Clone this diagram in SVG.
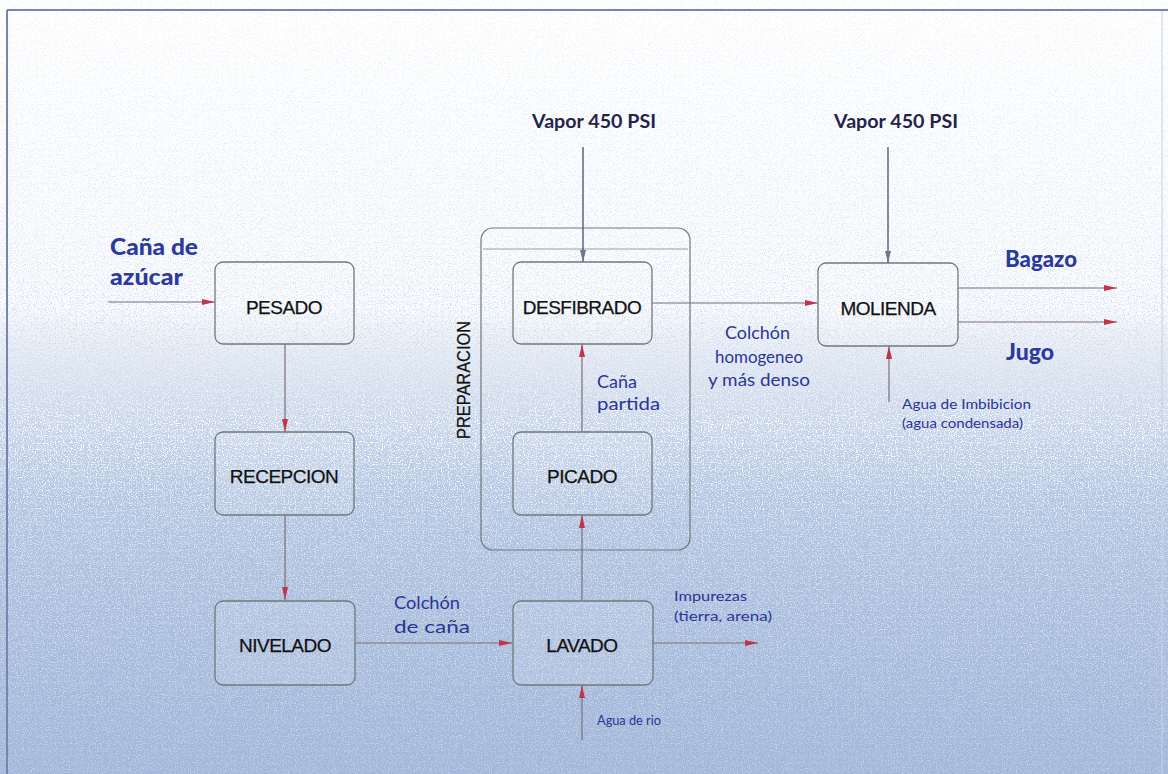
<svg xmlns="http://www.w3.org/2000/svg" width="1168" height="774" viewBox="0 0 1168 774">
  <defs>
    <linearGradient id="bg" x1="0" y1="0" x2="0" y2="1">
      <stop offset="0" stop-color="#ffffff"/>
      <stop offset="0.4" stop-color="#f9fbfd"/>
      <stop offset="0.52" stop-color="#d0dbec"/>
      <stop offset="0.64" stop-color="#b4c6e2"/>
      <stop offset="0.8" stop-color="#a9bddd"/>
      <stop offset="1" stop-color="#a2b7da"/>
    </linearGradient>
    <!-- where the bluish speckle sits (upper half of the fade) -->
    <linearGradient id="blueGrainGrad" x1="0" y1="0" x2="0" y2="1">
      <stop offset="0" stop-color="#fff" stop-opacity="0.25"/>
      <stop offset="0.3" stop-color="#fff" stop-opacity="0.5"/>
      <stop offset="0.45" stop-color="#fff" stop-opacity="1"/>
      <stop offset="0.56" stop-color="#fff" stop-opacity="0.3"/>
      <stop offset="1" stop-color="#fff" stop-opacity="0"/>
    </linearGradient>
    <!-- where the light speckle sits (lower half of the fade) -->
    <linearGradient id="whiteGrainGrad" x1="0" y1="0" x2="0" y2="1">
      <stop offset="0" stop-color="#fff" stop-opacity="0"/>
      <stop offset="0.42" stop-color="#fff" stop-opacity="0"/>
      <stop offset="0.55" stop-color="#fff" stop-opacity="1"/>
      <stop offset="0.7" stop-color="#fff" stop-opacity="0.55"/>
      <stop offset="1" stop-color="#fff" stop-opacity="0.3"/>
    </linearGradient>
    <mask id="blueGrainMask" maskUnits="userSpaceOnUse" x="0" y="0" width="1168" height="774">
      <rect x="0" y="0" width="1168" height="774" fill="url(#blueGrainGrad)"/>
    </mask>
    <mask id="whiteGrainMask" maskUnits="userSpaceOnUse" x="0" y="0" width="1168" height="774">
      <rect x="0" y="0" width="1168" height="774" fill="url(#whiteGrainGrad)"/>
    </mask>
    <filter id="speckleBlue" x="0" y="0" width="100%" height="100%" filterUnits="userSpaceOnUse">
      <feTurbulence type="fractalNoise" baseFrequency="0.85" numOctaves="2" seed="7" result="n"/>
      <feColorMatrix in="n" type="matrix"
        values="0 0 0 0 0.6
                0 0 0 0 0.68
                0 0 0 0 0.82
                5 0 0 0 -2.55"/>
    </filter>
    <filter id="speckleWhite" x="0" y="0" width="100%" height="100%" filterUnits="userSpaceOnUse">
      <feTurbulence type="fractalNoise" baseFrequency="0.85" numOctaves="2" seed="23" result="n"/>
      <feColorMatrix in="n" type="matrix"
        values="0 0 0 0 1
                0 0 0 0 1
                0 0 0 0 1
                5 0 0 0 -2.5"/>
    </filter>
    <marker id="arrRed" viewBox="0 0 13 6" refX="13" refY="3" markerWidth="13" markerHeight="6" markerUnits="userSpaceOnUse" orient="auto">
      <path d="M0,0 L13,3 L0,6 Z" fill="#c2344c"/>
    </marker>
    <marker id="arrGray" viewBox="0 0 12 6" refX="12" refY="3" markerWidth="12" markerHeight="6" markerUnits="userSpaceOnUse" orient="auto">
      <path d="M0,0 L12,3 L0,6 Z" fill="#6b7890"/>
    </marker>
    <style>
      .box { fill: #ffffff; fill-opacity: 0.1; stroke: #6f7a7c; stroke-width: 1.3; }
      .frame { fill: none; stroke: #6f7a7c; stroke-width: 1.2; }
      .lbl { font-family: "Liberation Sans", Arial, sans-serif; font-size: 19px; fill: #111111; stroke: #111111; stroke-width: 0.25; text-anchor: middle; letter-spacing: -0.5px; }
      .side { font-family: "Liberation Sans", Arial, sans-serif; font-size: 19px; fill: #111111; stroke: #111111; stroke-width: 0.2; text-anchor: middle; }
      .note { font-family: "Lato", "DejaVu Sans", sans-serif; font-size: 18px; fill: #2b3596; }
      .small { font-family: "Lato", "DejaVu Sans", sans-serif; font-size: 14px; fill: #2b3596; }
      .vap { font-family: "Lato", "DejaVu Sans", sans-serif; font-size: 19px; fill: #24244a; font-weight: bold; }
      .big { font-family: "Lato", "DejaVu Sans", sans-serif; font-size: 22px; fill: #2c3a9e; font-weight: 900; }
      .flow { fill: none; stroke: #7c6e78; stroke-width: 1.2; marker-end: url(#arrRed); }
      .steam { fill: none; stroke: #4a4f66; stroke-width: 1.3; marker-end: url(#arrGray); }
    </style>
  </defs>

  <!-- background sheet with grain -->
  <rect x="0" y="0" width="1168" height="774" fill="url(#bg)"/>
  <rect x="0" y="0" width="1168" height="774" filter="url(#speckleBlue)" mask="url(#blueGrainMask)"/>
  <rect x="0" y="0" width="1168" height="774" filter="url(#speckleWhite)" mask="url(#whiteGrainMask)"/>

  <!-- sheet border -->
  <g id="border" fill="none" stroke="#7884b2" stroke-width="2">
    <line x1="7" y1="10" x2="1168" y2="10"/>
    <line x1="7" y1="10" x2="7" y2="774"/>
    <line x1="1162" y1="11" x2="1162" y2="774" stroke="#c9d0e4" stroke-width="1"/>
  </g>

  <!-- preparation enclosure -->
  <g id="preparacion">
    <rect class="frame" x="481" y="228" width="209" height="322" rx="12"/>
    <line x1="483" y1="249" x2="688" y2="249" stroke="#9aa1a6" stroke-width="1"/>
    <text class="side" transform="translate(470,380) rotate(-90)" textLength="118" lengthAdjust="spacingAndGlyphs">PREPARACION</text>
  </g>

  <!-- connectors -->
  <g id="connectors">
    <line class="flow" x1="108" y1="302" x2="215" y2="302"/>
    <line class="flow" x1="285" y1="344" x2="285" y2="432"/>
    <line class="flow" x1="285" y1="515" x2="285" y2="600"/>
    <line class="flow" x1="355" y1="643" x2="512" y2="643"/>
    <line class="flow" x1="652" y1="643" x2="758" y2="643"/>
    <line class="flow" x1="582" y1="740" x2="582" y2="685"/>
    <line class="flow" x1="582" y1="600" x2="582" y2="515"/>
    <line class="flow" x1="582" y1="432" x2="582" y2="344"/>
    <line class="steam" x1="583" y1="147" x2="583" y2="262"/>
    <line class="flow" x1="652" y1="303" x2="818" y2="303"/>
    <line class="steam" x1="888" y1="147" x2="888" y2="263"/>
    <line class="flow" x1="889" y1="402" x2="889" y2="346"/>
    <line class="flow" x1="958" y1="288" x2="1117" y2="288"/>
    <line class="flow" x1="958" y1="322" x2="1117" y2="322"/>
  </g>

  <!-- process steps -->
  <g id="pesado">
    <rect class="box" x="215" y="262" width="139" height="82" rx="8"/>
    <text class="lbl" x="284" y="314">PESADO</text>
  </g>
  <g id="recepcion">
    <rect class="box" x="215" y="432" width="139" height="83" rx="8"/>
    <text class="lbl" x="284" y="483">RECEPCION</text>
  </g>
  <g id="nivelado">
    <rect class="box" x="215" y="601" width="140" height="84" rx="8"/>
    <text class="lbl" x="285" y="652">NIVELADO</text>
  </g>
  <g id="lavado">
    <rect class="box" x="513" y="601" width="140" height="84" rx="8"/>
    <text class="lbl" x="582" y="652">LAVADO</text>
  </g>
  <g id="picado">
    <rect class="box" x="513" y="432" width="139" height="83" rx="8"/>
    <text class="lbl" x="582" y="483">PICADO</text>
  </g>
  <g id="desfibrado">
    <rect class="box" x="513" y="262" width="139" height="82" rx="8"/>
    <text class="lbl" x="582" y="314">DESFIBRADO</text>
  </g>
  <g id="molienda">
    <rect class="box" x="818" y="263" width="140" height="83" rx="8"/>
    <text class="lbl" x="888" y="315">MOLIENDA</text>
  </g>

  <!-- stream labels -->
  <g id="labels">
    <text class="vap" x="532" y="128" textLength="124" lengthAdjust="spacingAndGlyphs">Vapor 450 PSI</text>
    <text class="vap" x="834" y="128" textLength="124" lengthAdjust="spacingAndGlyphs">Vapor 450 PSI</text>

    <text class="big" x="110" y="255" textLength="88" lengthAdjust="spacingAndGlyphs">Caña de</text>
    <text class="big" x="110" y="285" textLength="73" lengthAdjust="spacingAndGlyphs">azúcar</text>

    <text class="big" x="1005" y="267" textLength="72" lengthAdjust="spacingAndGlyphs">Bagazo</text>
    <text class="big" x="1006" y="360" textLength="48" lengthAdjust="spacingAndGlyphs">Jugo</text>

    <text class="note" x="725" y="339" textLength="65" lengthAdjust="spacingAndGlyphs">Colchón</text>
    <text class="note" x="715" y="363" textLength="88" lengthAdjust="spacingAndGlyphs">homogeneo</text>
    <text class="note" x="708" y="386" textLength="102" lengthAdjust="spacingAndGlyphs">y más denso</text>

    <text class="small" x="902" y="409" textLength="129" lengthAdjust="spacingAndGlyphs">Agua de Imbibicion</text>
    <text class="small" x="902" y="428" textLength="121" lengthAdjust="spacingAndGlyphs">(agua condensada)</text>

    <text class="note" x="597" y="388" textLength="40" lengthAdjust="spacingAndGlyphs">Caña</text>
    <text class="note" x="597" y="410" textLength="63" lengthAdjust="spacingAndGlyphs">partida</text>

    <text class="note" x="394" y="609" textLength="66" lengthAdjust="spacingAndGlyphs">Colchón</text>
    <text class="note" x="394" y="633" textLength="76" lengthAdjust="spacingAndGlyphs">de caña</text>

    <text class="small" x="674" y="601" textLength="73" lengthAdjust="spacingAndGlyphs">Impurezas</text>
    <text class="small" x="674" y="621" textLength="98" lengthAdjust="spacingAndGlyphs">(tierra, arena)</text>

    <text class="small" x="597" y="725" textLength="64" lengthAdjust="spacingAndGlyphs">Agua de rio</text>
  </g>
</svg>
